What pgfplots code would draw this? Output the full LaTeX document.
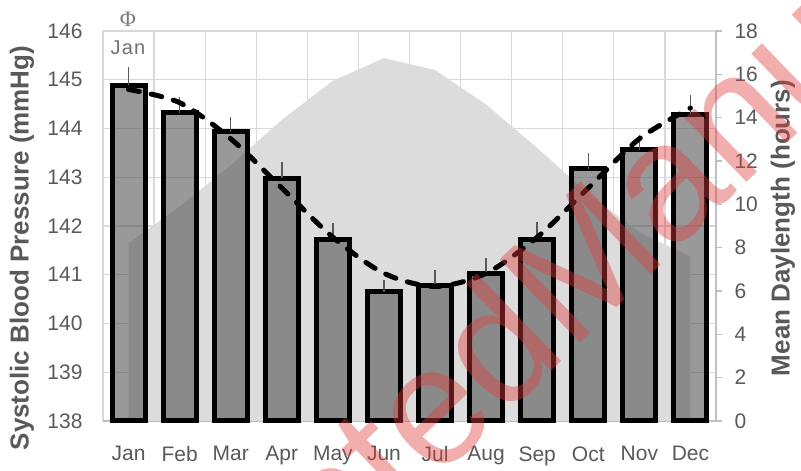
\documentclass[border=0pt]{standalone}
\usepackage{pgfplots}
\pgfplotsset{compat=1.18}
\usepackage{fontspec}
\setmainfont{Liberation Sans}
\newfontfamily\seriffont{Liberation Serif}
\definecolor{txt}{HTML}{595959}
\definecolor{gridc}{HTML}{D9D9D9}
\definecolor{axc}{HTML}{BFBFBF}
\definecolor{areac}{HTML}{DCDCDC}
\definecolor{barc}{HTML}{4C4C4C}
\definecolor{wm}{HTML}{E03C3C}
\pgfplotstableread{
x y e
1 144.89 0.37
2 144.32 0.33
3 143.93 0.31
4 142.98 0.34
5 141.73 0.33
6 140.65 0.25
7 140.77 0.33
8 141.02 0.32
9 141.73 0.36
10 143.17 0.33
11 143.56 0.30
12 144.29 0.40
}\bpdata
\begin{document}
\begin{tikzpicture}
\path[use as bounding box] (0,0) rectangle (801bp,471bp);
\pgfplotsset{base/.style={at={(103bp,50bp)}, anchor=south west, scale only axis,
  width=613bp, height=390bp, xmin=0.5, xmax=12.5}}
% axis 1: grid, left ticks, month labels
\begin{axis}[base, clip=false, ymin=138, ymax=146, ytick={138,139,...,146},
  xtick={1,2,...,12},
  xticklabels={Jan,Feb,Mar,Apr,May,Jun,Jul,Aug,Sep,Oct,Nov,Dec},
  minor xtick={0.5,1.5,...,12.5},
  xminorgrids, ymajorgrids, xmajorgrids=false,
  major tick length=0pt, minor tick length=0pt,
  grid style={draw=gridc, line width=1.3bp},
  minor grid style={draw=gridc, line width=1.3bp},
  axis line style={draw=none},
  tick label style={font=\fontsize{21bp}{21bp}\selectfont, text=txt},
  /pgf/number format/assume math mode=true,
  yticklabel style={xshift=-17bp},
  xticklabel style={yshift=-22bp}]
  \draw[axc, line width=1.5bp] (axis cs:0.5,138) -- (axis cs:12.5,138);
\end{axis}
% axis 2: daylength area, right axis
\begin{axis}[base, ymin=0, ymax=18, ytick={0,2,...,18},
  axis y line*=right, axis x line=none, xtick=\empty,
  y axis line style={draw=axc, line width=1.5bp},
  ytick style={draw=axc, line width=1.5bp},
  tick align=outside, major tick length=6bp,
  yticklabel style={font=\fontsize{21bp}{21bp}\selectfont, text=txt, xshift=9bp},
  /pgf/number format/assume math mode=true]
  \addplot[fill=areac, draw=none] coordinates {
    (1,8.2) (2,9.9) (3,11.8) (4,13.9) (5,15.7) (6,16.75)
    (7,16.2) (8,14.6) (9,12.6) (10,10.5) (11,8.7) (12,7.6)} \closedcycle;
\end{axis}
% axis 3: bars and fitted curve
\begin{axis}[base, ymin=138, ymax=146, hide axis, clip=false,
  y coord trafo/.code={\pgfmathparse{#1-138}},
  y coord inv trafo/.code={\pgfmathparse{#1+138}}]
  \addplot[ybar, bar width=0.645, fill=barc, fill opacity=0.57, draw=black,
    line width=5bp,
    error bars/.cd, y dir=plus, y explicit, error mark=none,
    error bar style={draw=txt, line width=1.5bp, solid}]
    table[x=x, y=y, y error=e] {\bpdata};
  \addplot[black, line width=5bp, line cap=round, dash pattern=on 11bp off 12bp,
    smooth, tension=0.5] coordinates {
    (1,144.80) (2,144.53) (3,143.79) (4,142.78) (5,141.77) (6,141.03)
    (7,140.76) (8,141.03) (9,141.77) (10,142.78) (11,143.79) (12,144.42)};
\end{axis}
% labels
\node[rotate=90, font=\bfseries\fontsize{26bp}{26bp}\selectfont, text=txt]
  at (22bp,223bp) {Systolic Blood Pressure (mmHg)};
\node[rotate=90, font=\bfseries\fontsize{26bp}{26bp}\selectfont, text=txt]
  at (783bp,243bp) {Mean Daylength (hours)};
\node[font=\seriffont\fontsize{22bp}{22bp}\selectfont, text=txt!80] at (128bp,452bp) {Φ};
\node[font=\fontsize{20bp}{20bp}\selectfont\addfontfeature{LetterSpace=6}, text=txt!85] at (128bp,423bp) {Jan};
% watermark
\node[overlay, rotate=44, anchor=base west, inner sep=0pt, text=wm, text opacity=0.42,
  font=\fontsize{168bp}{168bp}\selectfont] at (570bp,118bp) {Manuscript};
\node[overlay, rotate=44, anchor=base east, inner sep=0pt, text=wm, text opacity=0.42,
  font=\fontsize{168bp}{168bp}\selectfont] at (570bp,118bp) {Accepted\hspace{0.278em}};
\end{tikzpicture}
\end{document}
